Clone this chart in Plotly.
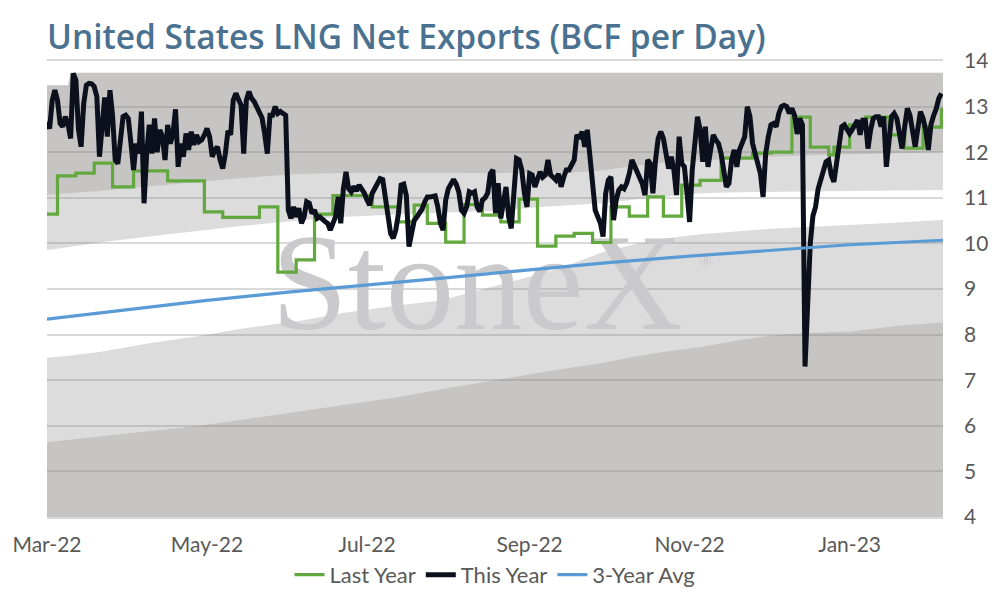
import pandas as pd
import plotly.graph_objects as go

# ---- data -------------------------------------------------------------
START = pd.Timestamp("2022-03-01")
END_DAY = 341.6          # last day shown on the axis (offset from START)

# This Year, daily values from 2022-03-01
this_year = [
    12.67, 12.52, 13.14, 13.36, 13.14, 12.63, 12.56, 12.78, 12.62, 12.3,
    13.73, 13.58, 12.5, 12.12, 13.07, 13.47, 13.51, 13.5, 13.44, 13.22,
    11.9, 12.56, 13.2, 12.34, 13.36, 12.8, 11.83, 11.75, 12.19, 12.78,
    12.81, 12.74, 12.2, 11.61, 12.19, 11.97, 12.89, 10.88, 11.97, 12.6,
    11.97, 12.74, 12.0, 12.49, 12.34, 11.83, 12.6, 12.19, 12.4, 12.94,
    11.68, 12.19, 11.9, 12.41, 12.05, 12.45, 12.16, 12.38, 12.23, 12.27,
    12.38, 12.52, 12.34, 11.9, 12.05, 12.12, 11.83, 11.64, 11.97, 12.47,
    12.38, 13.14, 13.29, 13.14, 13.03, 11.97, 13.14, 13.33, 13.18, 13.11,
    13.0, 12.85, 12.75, 12.4, 11.97, 12.81, 12.81, 13.0, 12.85, 12.89,
    12.85, 12.81, 10.73, 10.55, 10.8, 10.58, 10.77, 10.44, 10.58, 10.91,
    10.88, 10.66, 10.73, 10.55, 10.58, 10.51, 10.48, 10.44, 10.29, 10.44,
    10.58, 11.02, 10.44, 11.2, 11.57, 11.2, 11.13, 11.25, 11.15, 11.28,
    11.2, 11.1, 10.95, 10.84, 11.1, 11.2, 11.35, 11.42, 11.4, 11.02,
    10.6, 10.22, 10.11, 10.3, 10.66, 11.28, 11.3, 11.05, 9.93, 10.22,
    10.5, 10.58, 10.66, 10.75, 10.91, 11.02, 11.02, 11.03, 11.04, 10.8,
    10.44, 10.29, 10.95, 11.2, 11.28, 11.4, 11.3, 11.13, 10.73, 10.66,
    10.8, 11.13, 11.1, 11.13, 10.8, 10.7, 10.95, 11.0, 11.1, 11.53,
    11.61, 10.66, 11.32, 10.55, 10.9, 11.24, 10.58, 10.33, 11.1, 11.86,
    11.83, 11.61, 11.1, 10.8, 11.53, 11.5, 11.24, 11.4, 11.57, 11.45,
    11.5, 11.83, 11.5, 11.45, 11.39, 11.53, 11.24, 11.45, 11.61, 11.61,
    11.7, 11.83, 12.38, 12.3, 12.45, 12.12, 12.49, 11.97, 11.24, 10.73,
    10.58, 10.44, 10.15, 11.1, 11.39, 11.46, 10.51, 10.95, 11.17, 11.24,
    11.2, 11.32, 11.53, 11.83, 11.7, 11.55, 11.39, 11.3, 11.06, 11.83,
    11.75, 11.1, 11.83, 12.3, 12.45, 12.3, 11.97, 11.64, 11.9, 11.61,
    11.06, 12.34, 11.75, 11.68, 11.1, 10.47, 11.61, 12.12, 12.78, 12.49,
    11.79, 12.56, 11.68, 12.05, 12.38, 12.27, 12.19, 11.97, 11.53, 11.24,
    11.32, 11.83, 12.05, 11.68, 12.05, 12.19, 12.34, 13.0, 12.78, 12.19,
    11.97, 11.83, 11.53, 11.02, 11.97, 12.34, 12.6, 12.63, 12.56, 12.85,
    13.0, 13.03, 13.0, 12.85, 12.96, 12.81, 12.4, 12.74, 12.6, 7.3,
    8.7, 10.0, 10.6, 10.8, 11.2, 11.4, 11.61, 11.79, 11.83, 11.5,
    11.35, 11.75, 12.34, 12.56, 12.6, 12.49, 12.41, 12.5, 12.63, 12.7,
    12.38, 12.7, 12.7, 12.08, 12.49, 12.74, 12.78, 12.78, 12.56, 12.78,
    11.68, 12.4, 12.78, 12.85, 12.74, 12.41, 12.08, 12.56, 12.96, 12.81,
    12.4, 12.12, 12.52, 12.89, 12.74, 12.49, 12.05, 12.6, 12.8, 12.95,
    13.18, 13.29,
]

# Last Year, weekly steps (day offset where a new value starts)
last_year_day = [0, 4, 11, 18, 25, 33, 46, 60, 67, 81, 88, 95, 102, 109, 124, 134,
                 140, 145, 152, 159, 166, 173, 180, 187, 194, 201, 208, 215, 222,
                 229, 235, 242, 249, 257, 269, 276, 284, 291, 298, 300, 306, 312,
                 321, 327, 334, 341]
last_year_val = [10.64, 11.48, 11.54, 11.76, 11.24, 11.59, 11.37, 10.69, 10.57, 10.8,
                 9.37, 9.64, 10.64, 11.05, 10.8, 10.47, 10.84, 10.44, 10.03, 10.85,
                 10.62, 10.47, 10.97, 9.94, 10.16, 10.22, 10.02, 10.8, 10.6, 11.02,
                 10.6, 11.28, 11.38, 11.87, 11.98, 12.0, 12.77, 12.11, 11.94, 12.11,
                 12.6, 12.77, 12.38, 12.09, 12.55, 12.97]

# 3-Year Avg
avg_date = ["2022-03-01", "2022-04-01", "2022-05-01", "2022-06-01", "2022-07-01",
            "2022-08-01", "2022-09-01", "2022-10-01", "2022-11-01", "2022-12-01",
            "2023-01-01", "2023-02-06"]
avg_val = [8.34, 8.55, 8.75, 8.93, 9.08, 9.25, 9.42, 9.58, 9.72, 9.85, 9.97, 10.07]

# shaded range bands (upper edge of each layer, bottom to top)
band_day = [0, 8, 9, 20, 39, 58, 74, 96, 112, 135, 150, 173, 188, 200, 212, 224,
            237, 249, 263, 276, 290, 306, 325, 342]
band_1 = [5.64, 5.7, 5.7, 5.77, 5.88, 6.0, 6.13, 6.31, 6.45, 6.64, 6.8, 7.03, 7.17,
          7.28, 7.38, 7.52, 7.64, 7.73, 7.87, 7.98, 8.04, 8.07, 8.2, 8.27]
band_2 = [7.49, 7.53, 7.54, 7.62, 7.81, 7.97, 8.13, 8.3, 8.47, 8.65, 8.75, 9.1, 9.33,
          9.55, 9.81, 9.98, 10.12, 10.2, 10.27, 10.32, 10.36, 10.4, 10.46, 10.52]
band_3 = [9.85, 9.92, 9.93, 10.02, 10.15, 10.28, 10.38, 10.5, 10.58, 10.64, 10.67,
          10.72, 10.8, 10.84, 10.88, 10.96, 11.03, 11.1, 11.12, 11.13, 11.14, 11.15,
          11.16, 11.17]
band_4 = [11.06, 11.09, 11.1, 11.15, 11.25, 11.35, 11.43, 11.52, 11.54, 11.54, 11.54,
          11.55, 11.55, 11.55, 11.6, 11.7, 11.78, 11.82, 11.86, 11.9, 11.93, 11.95,
          11.98, 12.0]
band_5 = [13.47, 13.47, 13.74, 13.74, 13.74, 13.74, 13.74, 13.74, 13.74, 13.74, 13.74,
          13.74, 13.74, 13.74, 13.74, 13.74, 13.74, 13.74, 13.74, 13.74, 13.74, 13.74,
          13.74, 13.74]

# ---- styles -----------------------------------------------------------
FONT = "Lato"
DARK = "rgba(130,128,126,0.46)"
LIGHT = "rgba(130,130,130,0.28)"
GREEN = "#62a83e"
BLACK = "#0b101c"
BLUE = "#5b9bd5"
GRID = "#d9d9d9"
TXT = "#595959"

def to_dates(days):
    return [START + pd.Timedelta(days=d) for d in days]

x_end = START + pd.Timedelta(days=END_DAY)
band_x = to_dates(band_day)

fig = go.Figure()

# bands
fills = [("tozeroy", DARK), ("tonexty", LIGHT), ("none", None), ("tonexty", LIGHT), ("tonexty", DARK)]
for vals, (fill, col) in zip([band_1, band_2, band_3, band_4, band_5], fills):
    fig.add_trace(go.Scatter(x=band_x, y=vals, mode="lines", line=dict(width=0),
                             fill=fill, fillcolor=col, showlegend=False, hoverinfo="skip"))

# watermark (placed relative to the axis ranges)
wm_x = START + (x_end - START) * 0.48
reg_x = START + (x_end - START) * 0.735
fig.add_trace(go.Scatter(x=[wm_x], y=[8.87], mode="text", text=["StoneX"],
                         textfont=dict(family="Liberation Serif", size=137, color="#cacacc"),
                         showlegend=False, hoverinfo="skip"))
fig.add_trace(go.Scatter(x=[reg_x], y=[9.6], mode="text", text=["®"],
                         textfont=dict(family="Liberation Serif", size=16, color="#cacacc"),
                         showlegend=False, hoverinfo="skip"))

# series
fig.add_trace(go.Scatter(x=to_dates(last_year_day), y=last_year_val, mode="lines",
                         name="Last Year", line=dict(color=GREEN, width=3.2, shape="hv")))
fig.add_trace(go.Scatter(x=pd.date_range(START, periods=len(this_year), freq="D"), y=this_year,
                         mode="lines", name="This Year", line=dict(color=BLACK, width=5)))
fig.add_trace(go.Scatter(x=avg_date, y=avg_val, mode="lines", name="3-Year Avg",
                         line=dict(color=BLUE, width=3.2)))

# page body adds 8px around the graph: keep the figure inside the 996x600 window
fig.update_layout(
    width=980, height=584,
    margin=dict(l=39, r=45, t=53, b=75, autoexpand=False),
    paper_bgcolor="white", plot_bgcolor="white",
    font=dict(family=FONT, size=21, color=TXT),
    title=dict(text="United States LNG Net Exports (BCF per Day)",
               font=dict(family="Open Sans", size=33.5, color="#4a718f", weight=600),
               x=0, xref="paper", xanchor="left", y=0.9495, yref="container", yanchor="middle"),
    legend=dict(orientation="h", x=0.5, xanchor="center", y=-0.127, yanchor="middle",
                font=dict(family=FONT, size=22, color=TXT), itemwidth=30,
                traceorder="normal", bgcolor="rgba(0,0,0,0)"),
    xaxis=dict(type="date", range=[START, x_end], tick0="2022-03-01", dtick="M2",
               tickformat="%b-%y", showgrid=False, ticks="", ticklabelstandoff=8,
               showline=True, mirror=True, linecolor=GRID, linewidth=1.5, zeroline=False),
    yaxis=dict(range=[4, 14], dtick=1, side="right", showgrid=True, gridcolor=GRID,
               gridwidth=1.5, ticks="", ticklabelstandoff=20, zeroline=False),
    showlegend=True,
)

fig.write_html("out.html")
